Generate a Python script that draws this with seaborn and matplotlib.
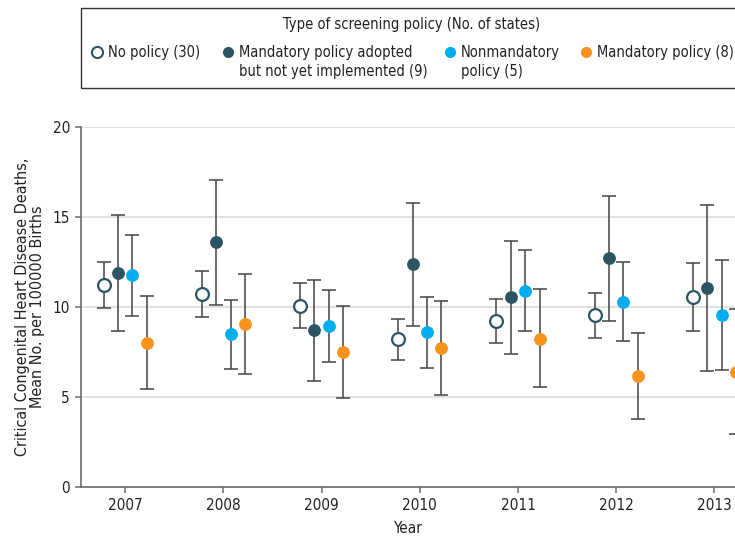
import numpy as np
import pandas as pd
import matplotlib.pyplot as plt
from matplotlib.patches import Rectangle
from matplotlib.lines import Line2D
import seaborn as sns

# Jahre und Gruppen
years = [2007, 2008, 2009, 2010, 2011, 2012, 2013]
policies = [
    "No policy (30)",
    "Mandatory policy adopted\nbut not yet implemented (9)",
    "Nonmandatory\npolicy (5)",
    "Mandatory policy (8)",
]

# Mittelwerte und 95%-KI
no_mean = [11.24, 10.72, 10.07, 8.24, 9.24, 9.54, 10.54]
no_lo = [9.93, 9.43, 8.81, 7.07, 8.00, 8.28, 8.65]
no_hi = [12.52, 12.00, 11.35, 9.35, 10.46, 10.80, 12.46]

adopted_mean = [11.89, 13.59, 8.72, 12.39, 10.54, 12.70, 11.07]
adopted_lo = [8.67, 10.13, 5.91, 8.96, 7.39, 9.24, 6.44]
adopted_hi = [15.13, 17.06, 11.52, 15.76, 13.69, 16.15, 15.69]

nonmand_mean = [11.76, 8.48, 8.93, 8.63, 10.89, 10.28, 9.56]
nonmand_lo = [9.52, 6.57, 6.93, 6.63, 8.65, 8.11, 6.50]
nonmand_hi = [13.98, 10.41, 10.93, 10.57, 13.15, 12.48, 12.63]

mand_mean = [8.02, 9.07, 7.52, 7.72, 8.24, 6.17, 6.41]
mand_lo = [5.44, 6.30, 4.96, 5.11, 5.54, 3.80, 2.94]
mand_hi = [10.61, 11.83, 10.06, 10.35, 10.98, 8.54, 9.89]

dark = "#2c5463"
cyan = "#00aeef"
orange = "#f7941d"
txt = "#222222"

series = [
    (policies[0], no_mean, no_lo, no_hi, "white", dark),
    (policies[1], adopted_mean, adopted_lo, adopted_hi, dark, dark),
    (policies[2], nonmand_mean, nonmand_lo, nonmand_hi, cyan, cyan),
    (policies[3], mand_mean, mand_lo, mand_hi, orange, orange),
]
offsets = [-0.22, -0.073, 0.073, 0.22]

rows = []
for (name, m, lo, hi, fc, ec), off in zip(series, offsets):
    for y, a, b, c in zip(years, m, lo, hi):
        rows.append({"policy": name, "year": y, "x": y + off, "mean": a, "lo": b, "hi": c})
df = pd.DataFrame(rows)

sns.set_style("white")
plt.rcParams["font.family"] = ["DejaVu Sans"]
plt.rcParams["font.stretch"] = "condensed"

W, H = 735, 537
fig = plt.figure(figsize=(W / 100, H / 100), dpi=100)
ax = fig.add_axes([81 / W, 1 - 487 / H, 1 - 81 / W, 360 / H])

for (name, m, lo, hi, fc, ec), off in zip(series, offsets):
    sub = df[df["policy"] == name]
    ax.errorbar(sub["x"], sub["mean"],
                yerr=[sub["mean"] - sub["lo"], sub["hi"] - sub["mean"]],
                fmt="none", ecolor="#444444", elinewidth=1.1, capsize=4.8,
                capthick=1.1, zorder=2)
    sns.scatterplot(data=sub, x="x", y="mean", ax=ax, color=fc, edgecolor=ec,
                    linewidth=1.6 if fc == "white" else 0, s=85, zorder=3,
                    legend=False)

ax.set_xlim(2006.55, 2013.21)
ax.set_ylim(0, 20)
ax.set_xticks(years)
ax.set_xticklabels([str(y) for y in years])
ax.set_yticks([0, 5, 10, 15, 20])
ax.yaxis.grid(True, color="#dcdcdc", linewidth=1.2)
ax.set_axisbelow(True)
for s in ["top", "right"]:
    ax.spines[s].set_visible(False)
for s in ["left", "bottom"]:
    ax.spines[s].set_color("#6b6b6b")
    ax.spines[s].set_linewidth(1.2)
ax.tick_params(axis="both", direction="out", length=4, width=1.1,
               color="#6b6b6b", labelsize=11, labelcolor=txt, pad=4,
               bottom=True, left=True)
ax.set_xlabel("Year", fontsize=11, color=txt, labelpad=6)
ax.set_ylabel("Critical Congenital Heart Disease Deaths,\nMean No. per 100000 Births",
              fontsize=11.5, color=txt, labelpad=5, linespacing=1.0)

# Legende von Hand (Rahmen oben)
fig.add_artist(Rectangle((81 / W, 1 - 88 / H), 700 / W, 80 / H, transform=fig.transFigure,
                         fill=False, edgecolor="#333333", linewidth=1.0))
fig.text(412 / W, 1 - 25 / H, "Type of screening policy (No. of states)", ha="center",
         va="center", fontsize=10.5, color=txt)
marker_x = [97, 228, 450, 586]
for (name, m, lo, hi, fc, ec), mx in zip(series, marker_x):
    fig.add_artist(Line2D([mx / W], [1 - 52 / H], transform=fig.transFigure,
                          linestyle="none", marker="o", markersize=8,
                          markerfacecolor=fc, markeredgecolor=ec,
                          markeredgewidth=1.5 if fc == "white" else 0))
    fig.text((mx + 11) / W, 1 - 44.5 / H, name, ha="left", va="top", fontsize=10.5,
             color=txt, linespacing=1.35)

fig.savefig("out.png", dpi=100)
